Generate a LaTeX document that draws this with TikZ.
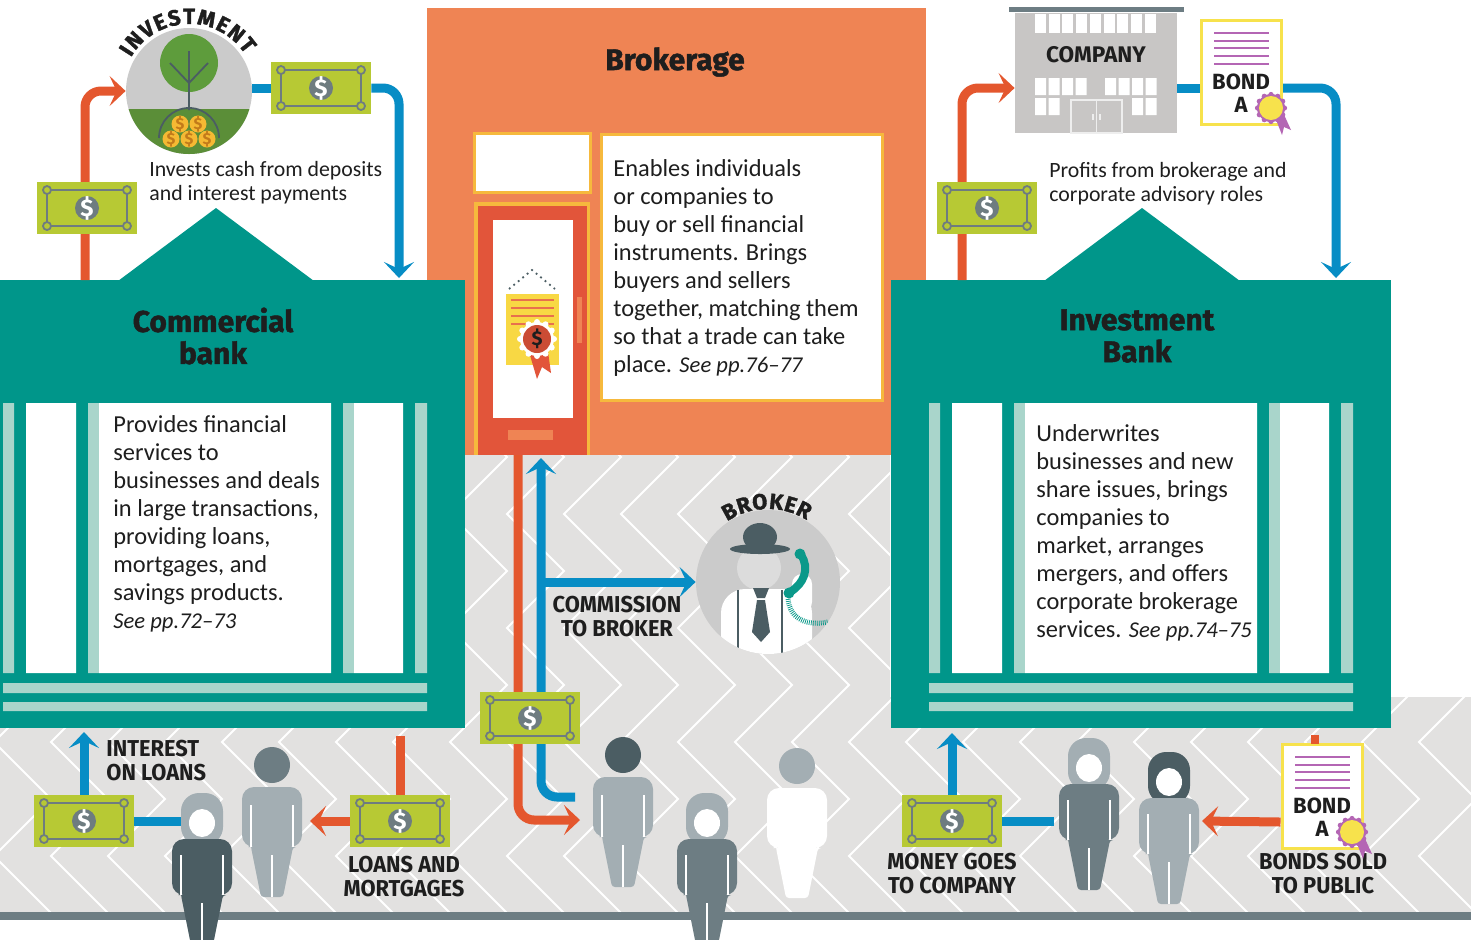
\documentclass[tikz,border=0pt]{standalone}
\usepackage{fontspec}
\setmainfont{Carlito}
\newfontfamily\headfont{Fira Sans}
\newfontfamily\heavyfont[FakeBold=1.5]{Fira Sans}
\newfontfamily\capfont[FakeStretch=0.95]{Fira Sans}
\usetikzlibrary{arrows.meta,decorations.text,shapes.misc}
\pgfdeclarelayer{ground}
\pgfdeclarelayer{flow}
\pgfsetlayers{ground,flow,main}
\newcommand{\seepages}[1]{{\itshape\fontsize{11.3}{14}\selectfont See pp.#1}}

\definecolor{bankteal}{HTML}{00968A}
\definecolor{paleteal}{HTML}{A9D5CB}
\definecolor{brokeorange}{HTML}{EF8454}
\definecolor{doorred}{HTML}{E2553A}
\definecolor{edgeyellow}{HTML}{F6B93D}
\definecolor{flowred}{HTML}{E4572E}
\definecolor{flowblue}{HTML}{078DC5}
\definecolor{billgreen}{HTML}{B7C934}
\definecolor{billgray}{HTML}{6E7C80}
\definecolor{pavement}{HTML}{E2E1E0}
\definecolor{slatedark}{HTML}{4B5D63}
\definecolor{slatemid}{HTML}{6D7D83}
\definecolor{slatelight}{HTML}{A3AEB3}
\definecolor{buildgray}{HTML}{C8C6C5}
\definecolor{discgray}{HTML}{CBCBCB}
\definecolor{facegray}{HTML}{DCDCDC}
\definecolor{leafgreen}{HTML}{5E9C3C}
\definecolor{soilgreen}{HTML}{5B8E38}
\definecolor{coinyellow}{HTML}{F5B933}
\definecolor{coinbrown}{HTML}{C27A1A}
\definecolor{bondpurple}{HTML}{B466B4}
\definecolor{bondyellow}{HTML}{F7E24C}
\definecolor{phoneteal}{HTML}{0B998A}
\definecolor{inkblack}{HTML}{1E1E1E}

\begin{document}
\begin{tikzpicture}[x=0.5pt, y=-0.5pt,
  >={Stealth[length=8pt,width=15pt,inset=3.5pt]},
  flow/.style={line width=4.5pt, rounded corners=8pt},
  redflow/.style={flow, draw=flowred},
  blueflow/.style={flow, draw=flowblue},
  bill/.style={rectangle, fill=billgreen, minimum width=50pt, minimum height=26pt, inner sep=0pt,
    path picture={
      \begin{scope}[shift={(path picture bounding box.center)}]
        \draw[billgray, line width=1pt] (-40,-18) rectangle (40,18);
        \foreach \px/\py in {-40/-18,40/-18,-40/18,40/18}
          \draw[billgray, line width=0.9pt, fill=billgreen] (\px,\py) circle[radius=4];
        \fill[billgray] (0,0) circle[radius=12];
        \node[text=white, font=\headfont\bfseries\fontsize{12}{12}\selectfont] (dollar) at (0,0) {\$};
      \end{scope}}},
  panel/.style={anchor=north west, inner sep=0pt, align=left, text=inkblack,
    font=\fontsize{12.2}{14}\selectfont},
  note/.style={anchor=north west, inner sep=0pt, align=left, text=inkblack,
    font=\fontsize{10.9}{12}\selectfont},
  hall/.style={inner sep=0pt, align=center, text=inkblack,
    font=\heavyfont\bfseries\fontsize{15}{16}\selectfont},
  tag/.style={anchor=north, inner sep=0pt, align=center, text=inkblack,
    font=\capfont\bfseries\fontsize{11.5}{11.8}\selectfont},
  stamp/.style={inner sep=0pt, text=inkblack, font=\headfont\bfseries\fontsize{11.3}{12}\selectfont},
  pics/bankhall/.style={code={
    \fill[bankteal] (-35,280) rectangle (465,728);
    \fill[bankteal] (118,281) -- (216,208) -- (314,281) -- cycle;
    \fill[paleteal] (3,403) rectangle (14,673) (88,403) rectangle (99,673)
      (343,403) rectangle (354,673) (415,403) rectangle (427,673)
      (3,683) rectangle (427,693) (3,702) rectangle (427,711);
    \fill[white] (26,403) rectangle (76,673) (99,403) rectangle (331,673)
      (354,403) rectangle (403,673);
  }},
  pics/man/.style 2 args={code={
    \fill[#1] (-21,100) [rounded corners=6pt] -- (-30,100) -- (-30,40) -- (30,40) -- (30,100)
      [rounded corners=1.5pt] -- (21,100) -- (11,150) -- (-11,150) -- (-21,100) -- cycle;
    \fill[#2] (0,18) circle[radius=18];
    \draw[white, line width=0.8pt] (-21,58) -- (-21,100) (21,58) -- (21,100) (0,108) -- (0,150);
  }},
  pics/woman/.style 2 args={code={
    \fill[#2, rounded corners=9pt] (-21,52) -- (-21,0) -- (21,0) -- (21,52) -- cycle;
    \fill[#1] (-21,102) [rounded corners=6pt] -- (-30,102) -- (-30,46) -- (30,46) -- (30,102)
      [rounded corners=1.5pt] -- (21,102) -- (11,152) -- (-11,152) -- (-21,102) -- cycle;
    \fill[white] (0,30) ellipse[x radius=13, y radius=14];
    \draw[white, line width=0.8pt] (-21,62) -- (-21,102) (21,62) -- (21,102) (0,110) -- (0,152);
  }},
  pics/bondpaper/.style={code={
    \node[chamfered rectangle, chamfered rectangle xsep=4pt, draw=bondyellow, line width=1.5pt,
      fill=white, minimum width=40pt, minimum height=52pt, inner sep=0pt] (-card) at (0,0) {};
    \foreach \ly in {-39,-31,-24,-16,-8}
      \draw[bondpurple, line width=1.3pt] (-27,\ly) -- (28,\ly);
    \node[stamp, font=\headfont\bfseries\fontsize{11}{12}\selectfont] (-word) at (0,10) {BOND};
    \node[stamp, font=\headfont\bfseries\fontsize{11}{12}\selectfont] (-grade) at (0,33) {A};
    \fill[bondpurple] (32,40) -- (40,36) -- (50,58) -- (43,55) -- (41,63) -- cycle;
    \foreach \a in {0,30,...,330}
      \fill[bondpurple] (30,36) ++(\a:13.5) circle[radius=2.6];
    \fill[bondpurple] (30,36) circle[radius=14];
    \fill[bondyellow] (30,36) circle[radius=12];
  }},
]
\useasboundingbox (0,0) rectangle (1471,939);

\begin{pgfonlayer}{ground}
\fill[white] (0,0) rectangle (1471,939);
\fill[pavement] (465,455) rectangle (890,912) (0,697) rectangle (1471,912);
\begin{scope}
  \clip (465,455) rectangle (890,912) (0,697) rectangle (1471,912);
  \foreach \cx in {-120,-63,...,1480}
    \draw[white, line width=1pt] (\cx,400) \foreach \k in {1,...,5}{ -- ++(57,57) -- ++(-57,57)};
\end{scope}
\fill[slatemid] (0,912) rectangle (1471,920);

% brokerage front
\fill[brokeorange] (427,8) rectangle (926,455);
\fill[white, draw=edgeyellow, line width=1.5pt] (474,133) rectangle (590,192);
\fill[edgeyellow] (474,202) rectangle (590,455);
\fill[doorred] (478,206) rectangle (587,455);
\fill[white] (493,220) rectangle (573,418);
\fill[brokeorange] (577,297) rectangle (582,343);
\fill[brokeorange] (508,430) rectangle (553,440);
\draw[slatedark, line width=0.9pt, dotted] (509,289) -- (532,270) -- (555,289);
\fill[bondyellow!90!orange] (506,294) rectangle (559,365);
\foreach \ly in {300,308,316,324}
  \draw[flowred!85, line width=1pt] (511,\ly) -- (554,\ly);
\fill[doorred] (527,345) -- (547,345) -- (551,373) -- (542,367) -- (537,379) -- cycle;
\foreach \a in {0,30,...,330}
  \fill[white] (537,339) ++(\a:17) circle[radius=3];
\fill[white] (537,339) circle[radius=17];
\fill[doorred!90!black] (537,339) circle[radius=14];
\node[draw=edgeyellow, line width=1.5pt, fill=white, anchor=north west, inner sep=0pt,
  minimum width=140.5pt, minimum height=133pt] (bkbox) at (600,133) {};

\pic at (0,0) {bankhall};
\pic at (926,0) {bankhall};

% company block
\fill[slatemid] (1009,7) rectangle (1184,12);
\node[rectangle, fill=buildgray, minimum width=81pt, minimum height=60pt, inner sep=0pt] (company) at (1096,73) {};
\foreach \i in {0,...,8}
  \fill[white] (1035+\i*13.7,14) rectangle ++(11,19);
\foreach \i in {0,...,3}
  \fill[white] (1035+\i*13.5,78) rectangle ++(11,17) (1105+\i*13.5,78) rectangle ++(11,17);
\foreach \i in {0,1}
  \fill[white] (1035+\i*13.5,98) rectangle ++(11,17) (1132+\i*13.5,98) rectangle ++(11,17);
\draw[white!70!buildgray, line width=0.6pt] (1071,100) rectangle (1122,133) (1096.5,100) -- (1096.5,133)
  (1093,114) -- (1093,120) (1100,114) -- (1100,120);
\end{pgfonlayer}

\node[text=inkblack, font=\headfont\bfseries\fontsize{10}{10}\selectfont] (sealmark) at (537,339) {\$};

% titles and texts
\node[hall] (bkname) at (675,62) {Brokerage};
\node[hall] (cbname) at (213,336) {Commercial\\bank};
\node[hall] (ibname) at (1137,336) {Investment\\Bank};
\node[stamp] (companyname) at (1096,55) {COMPANY};

\node[panel] (bktext) at (613,159) {Enables individuals\\or companies to\\buy or sell financial\\instruments. Brings\\buyers and sellers\\together, matching them\\so that a trade can take\\place. \seepages{76--77}};
\node[panel] (cbtext) at (113,415) {Provides financial\\services to\\businesses and deals\\in large transactions,\\providing loans,\\mortgages, and\\savings products.\\\seepages{72--73}};
\node[panel] (ibtext) at (1036,424) {Underwrites\\businesses and new\\share issues, brings\\companies to\\market, arranges\\mergers, and offers\\corporate brokerage\\services. \seepages{74--75}};
\node[note] (cbnote) at (149,161) {Invests cash from deposits\\and interest payments};
\node[note] (ibnote) at (1049,162) {Profits from brokerage and\\corporate advisory roles};

\node[tag, anchor=north west, align=left] (interest) at (106,740) {INTEREST\\ON LOANS};
\node[tag] (loans) at (404,856) {LOANS AND\\MORTGAGES};
\node[tag] (commission) at (617,596) {COMMISSION\\TO BROKER};
\node[tag] (moneygoes) at (952,853) {MONEY GOES\\TO COMPANY};
\node[tag] (bondssold) at (1323,853) {BONDS SOLD\\TO PUBLIC};

% investment disc
\node[circle, minimum size=63pt, inner sep=0pt, fill=discgray, path picture={
  \begin{scope}[shift={(path picture bounding box.center)}]
    \fill[soilgreen] (-70,18) rectangle (70,70);
    \fill[leafgreen] (0,-28) circle[radius=29];
    \draw[slatedark, line width=0.9pt] (0,-40) -- (0,19) (0,-8) -- (-19,-28) (0,-8) -- (19,-28);
    \draw[slatedark, line width=0.9pt] (-30,47) arc[start angle=180, end angle=360, radius=30];
    \foreach \cx/\cy in {-9/33,9/33,-18/48,0/48,18/48}{
      \fill[coinyellow] (\cx,\cy) circle[radius=8.5];
      \node[text=coinbrown, font=\headfont\bfseries\fontsize{8}{8}\selectfont] (coinmark) at (\cx,\cy) {\$};}
  \end{scope}}] (invest) at (189,91) {};
\path[decorate, decoration={text along path, text align=fit to path, text color=inkblack,
  text={|\heavyfont\bfseries\fontsize{11}{11}\selectfont|INVESTMENT}}]
  (invest.center) ++(-150:67) arc[start angle=-150, end angle=-33, radius=67];

% broker disc
\node[circle, minimum size=72pt, inner sep=0pt, fill=discgray, path picture={
  \begin{scope}[shift={(path picture bounding box.center)}]
    \fill[facegray] (-9,-14) circle[radius=22];
    \fill[white, rounded corners=12pt] (-47,100) -- (-47,7) -- (44,7) -- (44,100) -- cycle;
    \fill[white, rounded corners=5pt] (24,-8) rectangle (44,30);
    \draw[slatedark, line width=1pt] (-30,8) -- (-30,75) (14,8) -- (14,75);
    \fill[slatedark] (-15,6) -- (1,6) -- (-3,16) -- (-11,16) -- cycle;
    \fill[slatedark] (-11,18) -- (-3,18) -- (2,50) -- (-7,60) -- (-16,50) -- cycle;
    \fill[slatedark] (-8,-45) ellipse[x radius=17, y radius=14];
    \fill[slatedark] (-8,-33) ellipse[x radius=30, y radius=5];
    \draw[phoneteal, line width=4pt, line cap=round] (33,-27) .. controls (42,-14) and (36,2) .. (22,10);
    \fill[phoneteal] (32,-28) circle[radius=5.5] (21,11) circle[radius=5.5];
    \draw[phoneteal, line width=2.5pt, dash pattern=on 0.4pt off 0.6pt] (20,17) .. controls (22,38) and (40,44) .. (60,40);
  \end{scope}}] (broker) at (768,582) {};
\path[decorate, decoration={text along path, text align=fit to path, text color=inkblack,
  text={|\heavyfont\bfseries\fontsize{11}{11}\selectfont|BROKER}}]
  (broker.center) ++(-124:73) arc[start angle=-124, end angle=-58, radius=73];

% bonds
\pic (bondtop) at (1241,72) {bondpaper};
\pic (bondlow) at (1322,796) {bondpaper};
\fill[flowred] (1311,735) rectangle (1319,744);

% money
\node[bill] (billcb) at (87,208) {};
\node[bill] (billtop) at (321,88) {};
\node[bill] (billib) at (987,208) {};
\node[bill] (billmid) at (530,718) {};
\node[bill] (billil) at (84,821) {};
\node[bill] (billlm) at (400,821) {};
\node[bill] (billmg) at (952,821) {};

% people
\pic at (202,793) {woman={slatedark}{slatelight}};
\pic at (272,747) {man={slatelight}{slatemid}};
\pic at (623,737) {man={slatelight}{slatedark}};
\pic at (707,793) {woman={slatemid}{slatelight}};
\pic at (797,748) {man={white}{slatelight}};
\pic at (1089,738) {woman={slatemid}{slatelight}};
\pic at (1169,752) {woman={slatelight}{slatedark}};

\coordinate (cbrise) at (85,280);
\coordinate (cbdrop) at (399,278);
\coordinate (ibrise) at (962,280);
\coordinate (ibdrop) at (1336,278);
\coordinate (cbsill) at (84,732);
\coordinate (cbfoot) at (400,736);
\coordinate (borrower) at (184,821);
\coordinate (loanend) at (310,821);
\coordinate (doorfoot) at (518,455);
\coordinate (doorback) at (541,458);
\coordinate (buyend) at (580,820);
\coordinate (sellstart) at (575,797);
\coordinate (commfork) at (541,582);
\coordinate (ibsill) at (952,733);
\coordinate (investor) at (1054,821);
\coordinate (bondend) at (1202,821);

\begin{pgfonlayer}{flow}
\draw[redflow,->] (cbrise) |- (invest.west);
\draw[blueflow] (invest.east |- billtop) -- (billtop.west);
\draw[blueflow,->] (billtop.east) -| (cbdrop);
\draw[redflow,->] (ibrise) |- ([yshift=-7.5pt]company.west);
\draw[blueflow] ([yshift=-7.5pt]company.east) -- ([yshift=-7.5pt]company.east -| bondtop-card.west);
\draw[blueflow,->] ([yshift=-7.5pt]company.east -| bondtop-card.east) -| (ibdrop);
\draw[blueflow,->] (billil.north) -- (cbsill);
\draw[blueflow] (billil.east) -- (borrower);
\draw[redflow] (cbfoot) -- (billlm.north);
\draw[redflow,->] (billlm.west) -- (loanend);
\draw[redflow,->] (doorfoot) |- (buyend);
\draw[blueflow,->] (sellstart) -| (doorback);
\draw[blueflow,->] (commfork) -- (broker.west);
\draw[blueflow,->] (billmg.north) -- (ibsill);
\draw[blueflow] (billmg.east) -- (investor);
\draw[redflow,->] ([yshift=-13pt]bondlow-card.west) -- (bondend);
\end{pgfonlayer}
\end{tikzpicture}
\end{document}
